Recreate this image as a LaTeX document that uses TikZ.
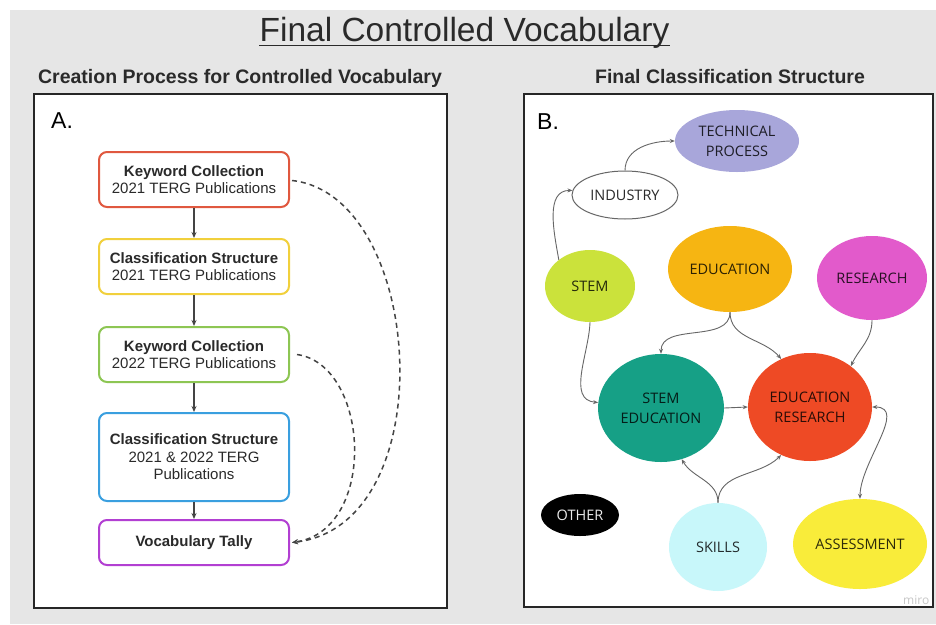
\documentclass[tikz,border=0pt]{standalone}
\usepackage{fontspec}
\setmainfont{Liberation Sans}
\newfontfamily\osans{Open Sans}
\usetikzlibrary{shapes.geometric,arrows.meta}
\definecolor{bggray}{HTML}{E6E6E6}
\definecolor{frame}{HTML}{262626}
\definecolor{txt}{HTML}{2A2A2A}
\definecolor{cRed}{HTML}{E0583F}
\definecolor{cYel}{HTML}{F1D03C}
\definecolor{cGrn}{HTML}{8DC653}
\definecolor{cBlu}{HTML}{3A9FDF}
\definecolor{cPur}{HTML}{B23FD2}
\definecolor{conn}{HTML}{444444}
\definecolor{edgeg}{HTML}{666666}
\definecolor{fTech}{HTML}{A8A6DA}
\definecolor{fStem}{HTML}{CBE23B}
\definecolor{fEdu}{HTML}{F6B512}
\definecolor{fRes}{HTML}{E25ACB}
\definecolor{fStEd}{HTML}{16A086}
\definecolor{fEdRe}{HTML}{EE4A25}
\definecolor{fSkill}{HTML}{C8F7FA}
\definecolor{fAss}{HTML}{F9EC3A}
\tikzset{
  stepbox/.style={draw=#1, line width=2pt, rounded corners=8pt, fill=white,
    minimum width=190pt, align=center, inner sep=0pt, text=txt,
    font=\fontsize{15}{17.5}\selectfont},
  flowarrow/.style={draw=conn, line width=1.5pt, -{Stealth[length=6pt,width=5pt]}},
  dasharrow/.style={draw=conn, line width=1.5pt, dash pattern=on 5pt off 4pt,
    -{Stealth[length=6pt,width=5pt]}},
  blob/.style={ellipse, fill=#1, draw=none, inner sep=0pt, align=center,
    text=#1!18!black, font=\osans\fontsize{14.5}{20}\selectfont},
  edge/.style={draw=edgeg, line width=0.9pt, -{Stealth[length=5pt,width=4pt]}},
  panelframe/.style={draw=frame, line width=2pt, fill=white}
}
\begin{document}
\begin{tikzpicture}[x=1pt, y=-1pt]
\useasboundingbox (0,0) rectangle (936,624);
\fill[white] (0,0) rectangle (936,624);
\fill[bggray] (10,10) rectangle (936,624);

% title
\node[anchor=base, inner sep=0pt, text=txt, font=\fontsize{33.5}{36}\selectfont] (title) at (464.5,41) {Final Controlled Vocabulary};
\draw[txt, line width=1.6pt] ([yshift=-4.5pt]title.base west) -- ([yshift=-4.5pt]title.base east);
\node[anchor=base, inner sep=0pt, text=txt, font=\bfseries\fontsize{19.5}{22}\selectfont] (subA) at (240,83) {Creation Process for Controlled Vocabulary};
\node[anchor=base, inner sep=0pt, text=txt, font=\bfseries\fontsize{19.5}{22}\selectfont] (subB) at (730,83) {Final Classification Structure};

% panel frames
\draw[panelframe] (34,94) rectangle (447,608);
\draw[panelframe] (524,94) rectangle (933,607);

% panel A
\node[anchor=base west, inner sep=0pt, text=black, font=\fontsize{23}{26}\selectfont] (labA) at (51,128) {A.};
\node[stepbox=cRed, minimum height=55pt] (k1) at (194,179.5) {\textbf{Keyword Collection}\\2021 TERG Publications};
\node[stepbox=cYel, minimum height=55pt] (c1) at (194,266.5) {\textbf{Classification Structure}\\2021 TERG Publications};
\node[stepbox=cGrn, minimum height=55pt] (k2) at (194,354.5) {\textbf{Keyword Collection}\\2022 TERG Publications};
\node[stepbox=cBlu, minimum height=88pt] (c2) at (194,457) {\textbf{Classification Structure}\\2021 \& 2022 TERG\\Publications};
\node[stepbox=cPur, minimum height=45pt] (vt) at (194,542.5) {\textbf{Vocabulary Tally}};

\draw[flowarrow] (k1.south) -- (c1.north);
\draw[flowarrow] (c1.south) -- (k2.north);
\draw[flowarrow] (k2.south) -- (c2.north);
\draw[flowarrow] (c2.south) -- (vt.north);

\coordinate (vtin) at ([xshift=2pt]vt.east);
\draw[dasharrow] ([xshift=2pt,yshift=-1pt]k1.east) .. controls (425,195) and (445,525) .. (vtin);
\draw[dasharrow] ([xshift=7pt]k2.east) .. controls (370,365) and (378,530) .. (vtin);

% panel B
\node[anchor=base west, inner sep=0pt, text=black, font=\fontsize{23}{26}\selectfont] (labB) at (537,129) {B.};

\node[blob=fTech, minimum width=124pt, minimum height=62pt] (tech) at (737,141) {TECHNICAL\\PROCESS};
\node[ellipse, draw=edgeg, line width=1pt, fill=white, inner sep=0pt, minimum width=106pt, minimum height=48pt,
  text=txt, font=\osans\fontsize{14.5}{20}\selectfont] (ind) at (625,195) {INDUSTRY};
\node[blob=fStem, minimum width=90pt, minimum height=72pt] (stem) at (590,286) {STEM};
\node[blob=fEdu, minimum width=124pt, minimum height=86pt] (edu) at (730,269) {EDUCATION};
\node[blob=fRes, minimum width=110pt, minimum height=84pt] (res) at (872,278) {RESEARCH};
\node[blob=fStEd, minimum width=126pt, minimum height=108pt] (sted) at (661,408) {STEM\\EDUCATION};
\node[blob=fEdRe, minimum width=124pt, minimum height=108pt] (edre) at (810,407) {EDUCATION\\RESEARCH};
\node[ellipse, fill=black, inner sep=0pt, minimum width=78pt, minimum height=42pt,
  text=white!92!black, font=\osans\fontsize{14.5}{20}\selectfont] (oth) at (580,515) {OTHER};
\node[blob=fSkill, minimum width=98pt, minimum height=88pt] (skl) at (718,547) {SKILLS};
\node[blob=fAss, minimum width=134pt, minimum height=90pt] (ass) at (860,544) {ASSESSMENT};

\draw[edge] (stem.140) to[out=100, in=180] (ind.175);
\draw[edge] (ind.north) to[out=90, in=180] (tech.west);
\draw[edge] (edu.south) to[out=-90, in=90] (sted.north);
\draw[edge] (edu.south) to[out=-90, in=130] (edre.121);
\draw[edge] (res.south) to[out=-90, in=65] (edre.45);
\draw[edge] (stem.south) to[out=-92, in=175] (sted.175);
\draw[edge] (sted.east) -- (edre.west);
\draw[edge] (skl.north) to[out=90, in=-60] (sted.-68);
\draw[edge] (skl.north) to[out=90, in=-135] (edre.-121);
\draw[edge, {Stealth[length=5pt,width=4pt]}-{Stealth[length=5pt,width=4pt]}] (edre.east) to[out=0, in=90] (ass.north);

\begin{scope}
\clip (524,590) rectangle (932,606);
\node[anchor=base west, inner sep=0pt, text=black!22, font=\osans\fontsize{12}{14}\selectfont] (miro) at (903,604) {miro};
\end{scope}
\end{tikzpicture}
\end{document}
